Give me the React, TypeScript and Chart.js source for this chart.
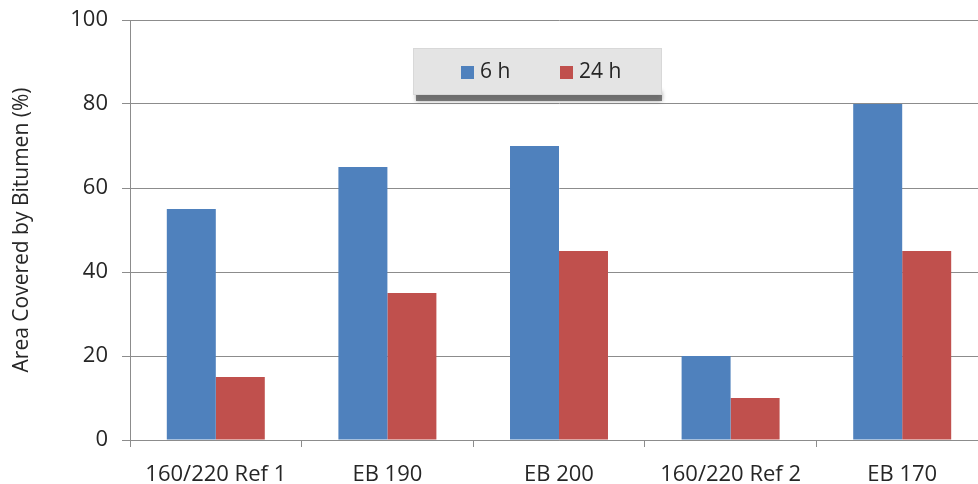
import { useEffect, useRef } from "react";
import { Chart, registerables } from "chart.js";

Chart.register(...registerables);

// Categories and the two exposure series (percent of area covered)
const categories = ["160/220 Ref 1", "EB 190", "EB 200", "160/220 Ref 2", "EB 170"];
const series6h = [55, 65, 70, 20, 80];
const series24h = [15, 35, 45, 10, 45];
const seriesLabels = ["6 h", "24 h"];
const seriesColors = ["#4F81BD", "#C0504D"];
const yMin = 0;
const yMax = 100;
const yStep = 20;
const yTitle = "Area Covered by Bitumen (%)";

const FONT = "'Open Sans', 'Noto Sans', sans-serif";
const TEXT = "#262626";
const GRID = "#8c8c8c";

// Floating legend panel with a drop shadow, drawn over the plot area
const legendPanel = {
  id: "legendPanel",
  afterDraw(chart: any) {
    const ctx = chart.ctx as CanvasRenderingContext2D;
    const x = 413;
    const y = 48;
    const w = 249;
    const h = 47;
    ctx.save();
    // shadow band
    ctx.fillStyle = "rgba(95,95,95,0.8)";
    ctx.shadowColor = "rgba(0,0,0,0.45)";
    ctx.shadowBlur = 4;
    ctx.fillRect(x + 3, y + h - 4, w - 3, 10);
    ctx.shadowColor = "transparent";
    ctx.shadowBlur = 0;
    // panel
    ctx.fillStyle = "#e4e4e4";
    ctx.fillRect(x, y, w, h);
    ctx.strokeStyle = "#d8d8d8";
    ctx.lineWidth = 1;
    ctx.strokeRect(x + 0.5, y + 0.5, w - 1, h - 1);

    const items = chart.data.datasets.map((d: any) => ({
      label: d.label as string,
      color: d.backgroundColor as string,
    }));
    const starts = [461, 560];
    ctx.font = `21px ${FONT}`;
    ctx.textBaseline = "middle";
    ctx.textAlign = "left";
    items.forEach((it: any, i: number) => {
      const sx = starts[i];
      ctx.fillStyle = it.color;
      ctx.fillRect(sx, 66, 13, 13);
      ctx.fillStyle = TEXT;
      ctx.fillText(it.label, sx + 19, 72);
    });
    ctx.restore();
  },
};

export default function App() {
  const canvasRef = useRef<HTMLCanvasElement | null>(null);

  useEffect(() => {
    if (!canvasRef.current) return;
    const chart = new Chart(canvasRef.current, {
      type: "bar",
      data: {
        labels: categories,
        datasets: [
          {
            label: seriesLabels[0],
            data: series6h,
            backgroundColor: seriesColors[0],
            borderWidth: 0,
          },
          {
            label: seriesLabels[1],
            data: series24h,
            backgroundColor: seriesColors[1],
            borderWidth: 0,
          },
        ],
      },
      options: {
        responsive: false,
        animation: false,
        devicePixelRatio: 1,
        layout: { padding: { top: 20, right: 2, bottom: 0, left: 0 } },
        datasets: {
          bar: { categoryPercentage: 0.571, barPercentage: 1.0 },
        },
        plugins: {
          legend: { display: false },
          tooltip: { enabled: false },
        },
        scales: {
          x: {
            offset: true,
            grid: {
              offset: true,
              drawOnChartArea: false,
              drawTicks: true,
              tickLength: 7,
              color: GRID,
            },
            border: { color: GRID },
            ticks: {
              color: TEXT,
              font: { family: FONT, size: 22 },
              padding: 15,
              maxRotation: 0,
              autoSkip: false,
            },
            afterFit(scale: any) {
              scale.height = 44;
              scale.paddingLeft = 0;
              scale.paddingRight = 0;
            },
          },
          y: {
            min: yMin,
            max: yMax,
            ticks: {
              stepSize: yStep,
              color: TEXT,
              font: { family: FONT, size: 22 },
              padding: 14,
            },
            grid: {
              color: GRID,
              tickLength: 8,
            },
            border: { color: GRID },
            title: {
              display: true,
              text: yTitle,
              color: TEXT,
              font: { family: FONT, size: 21 },
              padding: { top: 9, bottom: 0 },
            },
            afterFit(scale: any) {
              scale.width = 130;
              scale.paddingTop = 0;
              scale.paddingBottom = 0;
            },
          },
        },
      },
      plugins: [legendPanel],
    });
    return () => chart.destroy();
  }, []);

  return (
    <div
      style={{
        position: "fixed",
        left: 0,
        top: 0,
        width: 978,
        height: 484,
        overflow: "hidden",
        background: "#fff",
      }}
    >
      <canvas ref={canvasRef} width={990} height={484} style={{ display: "block" }} />
    </div>
  );
}
